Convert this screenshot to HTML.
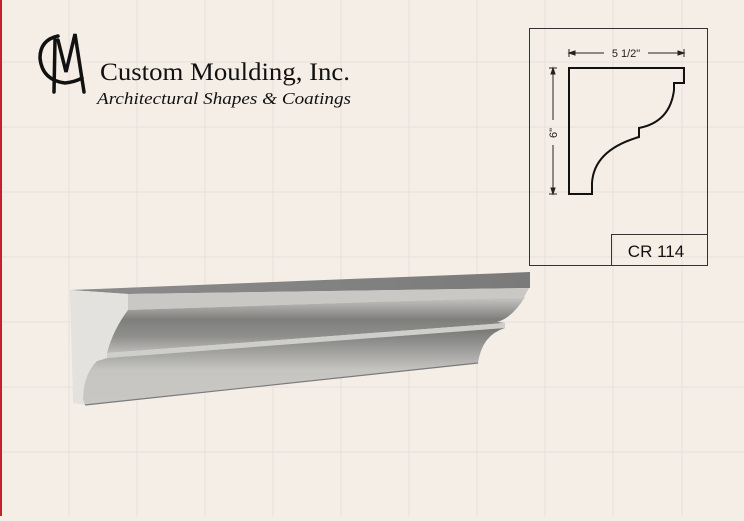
<!DOCTYPE html>
<html><head><style>
html,body{margin:0;padding:0;}
body{width:744px;height:516px;overflow:hidden;background:#f5eee6;}
</style></head><body>
<svg width="744" height="516" viewBox="0 0 744 516" xmlns="http://www.w3.org/2000/svg">
<defs>
<linearGradient id="top" x1="0" y1="0" x2="1" y2="0"><stop offset="0" stop-color="#8c8c8c"/><stop offset="1" stop-color="#7a7a7a"/></linearGradient>
<linearGradient id="cove1" x1="0" y1="0" x2="0" y2="1"><stop offset="0" stop-color="#c8c7c4"/><stop offset="0.4" stop-color="#7e7e7c"/><stop offset="0.7" stop-color="#8e8e8c"/><stop offset="1" stop-color="#bdbcb9"/></linearGradient>
<linearGradient id="cove2" x1="0" y1="0" x2="0" y2="1"><stop offset="0" stop-color="#767674"/><stop offset="0.3" stop-color="#a0a09e"/><stop offset="0.55" stop-color="#c6c5c2"/><stop offset="1" stop-color="#c8c7c4"/></linearGradient>
</defs>
<g stroke="#e8dfdc" stroke-width="1">
<line x1="69" y1="0" x2="69" y2="516"/><line x1="137" y1="0" x2="137" y2="516"/><line x1="205" y1="0" x2="205" y2="516"/><line x1="273" y1="0" x2="273" y2="516"/><line x1="341" y1="0" x2="341" y2="516"/><line x1="409" y1="0" x2="409" y2="516"/><line x1="477" y1="0" x2="477" y2="516"/><line x1="545" y1="0" x2="545" y2="516"/><line x1="613" y1="0" x2="613" y2="516"/><line x1="682" y1="0" x2="682" y2="516"/>
<line x1="0" y1="62" x2="744" y2="62"/><line x1="0" y1="127" x2="744" y2="127"/><line x1="0" y1="192" x2="744" y2="192"/><line x1="0" y1="257" x2="744" y2="257"/><line x1="0" y1="322" x2="744" y2="322"/><line x1="0" y1="387" x2="744" y2="387"/><line x1="0" y1="452" x2="744" y2="452"/>
</g>
<rect x="0" y="0" width="2" height="516" fill="#c8202a"/>

<!-- logo -->
<g fill="none" stroke="#111" stroke-width="3.5" stroke-linecap="round">
<path d="M58 36 Q40 40 40 58 Q42 80 65 83 Q75 82 82 78"/>
<path d="M55 40 L54 92"/>
<path d="M58 40 L66 72 L75 34 L84 92"/>
</g>
<text x="100" y="80" font-family="Liberation Serif, serif" font-size="25" fill="#111" textLength="250" lengthAdjust="spacingAndGlyphs">Custom Moulding, Inc.</text>
<text x="97" y="104" font-family="Liberation Serif, serif" font-style="italic" font-size="17" fill="#111" textLength="254" lengthAdjust="spacingAndGlyphs">Architectural Shapes &amp; Coatings</text>

<!-- moulding -->
<polygon points="70,290 530,272 530,288 128,294" fill="url(#top)"/>
<polygon points="128,294 529,288 524,297 128,310" fill="#c9c8c5"/>
<path d="M128,310 L525,297 Q512,318 497,322 L505,323 L107,353 Q110,320 128,310 Z" fill="url(#cove1)"/>
<polygon points="107,353 505,323 505,328 107,358" fill="#cfcecb"/>
<path d="M107,358 L505,328 Q482,335 478,363 L85,405 L83,400 Q83,372 97,361 Z" fill="url(#cove2)"/>
<line x1="85" y1="405" x2="478" y2="363" stroke="#7a7a7a" stroke-width="1.2"/>
<path d="M70,290 L128,294 L128,310 Q113,330 107,353 L107,358 L97,361 Q83,375 83,400 L85,405 L73,403 Z" fill="#e4e2de"/>

<!-- profile box -->
<rect x="529.5" y="28.5" width="178" height="237" fill="none" stroke="#333" stroke-width="1"/>
<rect x="611.5" y="234.5" width="96" height="31" fill="none" stroke="#333" stroke-width="1"/>
<text x="656" y="257" text-anchor="middle" font-family="Liberation Sans, sans-serif" font-size="17" fill="#111">CR 114</text>
<path d="M569,68 L684,68 L684,83 L674,83 L674,90 Q670,122 639,128 L639,137 Q594,150 592,183 L592,194 L569,194 Z" fill="none" stroke="#111" stroke-width="2"/>
<g stroke="#222" stroke-width="1" fill="#222">
<line x1="569" y1="49" x2="569" y2="57"/><line x1="684" y1="49" x2="684" y2="57"/>
<line x1="569" y1="53" x2="604" y2="53"/><line x1="648" y1="53" x2="684" y2="53"/>
<polygon points="569,53 575,51 575,55"/><polygon points="684,53 678,51 678,55"/>
<line x1="549" y1="68" x2="557" y2="68"/><line x1="549" y1="194" x2="557" y2="194"/>
<line x1="553" y1="68" x2="553" y2="120"/><line x1="553" y1="145" x2="553" y2="194"/>
<polygon points="553,68 551,74 555,74"/><polygon points="553,194 551,188 555,188"/>
</g>
<text x="626" y="57" text-anchor="middle" font-family="Liberation Sans, sans-serif" font-size="11" fill="#222">5 1/2"</text>
<text transform="translate(557,133) rotate(-90)" text-anchor="middle" font-family="Liberation Sans, sans-serif" font-size="11" fill="#222">6"</text>
</svg>
</body></html>
